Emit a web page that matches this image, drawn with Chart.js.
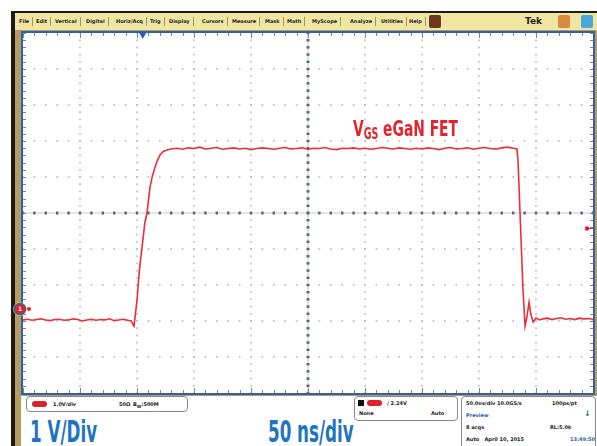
<!DOCTYPE html>
<html>
<head>
<meta charset="utf-8">
<script src="https://cdn.jsdelivr.net/npm/chart.js@4.4.1/dist/chart.umd.min.js"></script>
<style>
  body { margin:0; width:597px; height:446px; overflow:hidden; background:#fff; position:relative;
         font-family:"Liberation Sans", Arial, sans-serif; }
  .abs { position:absolute; }
  #blackL { left:11px; top:11px; width:4px; height:435px; background:#1b1b1b; }
  #blackT { left:11px; top:11px; width:586px; height:2px; background:#1b1b1b; }
  #menu { left:15px; top:13px; width:582px; height:17px; background:#f0e6a2; }
  #tanL { left:15px; top:30px; width:6px; height:416px; background:#b59c60; }
  #tanT { left:15px; top:30px; width:582px; height:3px; background:#b59c60; }
  #tanR { left:593px; top:30px; width:4px; height:366px; background:#b59c60; }
  #tanB { left:21px; top:393px; width:576px; height:3px; background:#b59c60; }
  #plotBg { left:23px; top:33px; width:570px; height:360px; background:#fff; }
  #bottom { left:21px; top:396px; width:576px; height:50px; background:#fff; }
  .mi { position:absolute; top:4px; height:9px; font:bold 5px "DejaVu Sans", sans-serif; line-height:9px;
        color:#222; border-right:1px solid #9c9470; padding-right:3px; }
  .btn { position:absolute; top:2px; width:12px; height:13px; border-radius:2px; }
  .box { position:absolute; border:1px solid #8a8a8a; border-radius:4px; background:#fff; }
  .tiny { position:absolute; font:bold 5px "DejaVu Sans", sans-serif; color:#222; white-space:nowrap; }
  .pill { position:absolute; width:15px; height:6px; border-radius:3px; background:#d8232a; }
  .big { position:absolute; font:bold 30px "Liberation Sans Narrow", "DejaVu Sans Condensed", sans-serif;
         color:#1f74c0; white-space:nowrap; transform-origin:0 0; transform:scaleX(0.62); }
  #label { position:absolute; left:353px; top:116px; font:bold 22px "Liberation Sans Narrow", "DejaVu Sans Condensed", sans-serif;
           color:#e5232d; white-space:nowrap; transform-origin:0 0; transform:scaleX(0.7); }
  #label sub { font-size:15px; vertical-align:-3px; }
  #wrap { position:absolute; left:0; top:0; width:597px; height:446px; }
</style>
</head>
<body>
<div class="abs" id="blackL"></div>
<div class="abs" id="blackT"></div>
<div class="abs" id="menu">
  <span class="mi" style="left:4px">File</span>
  <span class="mi" style="left:21px">Edit</span>
  <span class="mi" style="left:40px">Vertical</span>
  <span class="mi" style="left:71px">Digital</span>
  <span class="mi" style="left:101px">Horiz/Acq</span>
  <span class="mi" style="left:135px">Trig</span>
  <span class="mi" style="left:154px">Display</span>
  <span class="mi" style="left:187px">Cursors</span>
  <span class="mi" style="left:217px">Measure</span>
  <span class="mi" style="left:250px">Mask</span>
  <span class="mi" style="left:272px">Math</span>
  <span class="mi" style="left:297px">MyScope</span>
  <span class="mi" style="left:335px">Analyze</span>
  <span class="mi" style="left:366px">Utilities</span>
  <span class="mi" style="left:394px">Help</span>
  <div class="btn" style="left:414px;background:#6b3a1e"></div>
  <span style="position:absolute;left:510px;top:3px;font:bold 9px 'DejaVu Sans',sans-serif;color:#222">Tek</span>
  <div class="btn" style="left:543px;background:#d98a3c"></div>
  <div class="btn" style="left:566px;background:#4aa8d8"></div>
</div>
<div class="abs" id="tanL"></div>
<div class="abs" id="tanT"></div>
<div class="abs" id="tanR"></div>
<div class="abs" id="tanB"></div>
<div class="abs" id="plotBg"></div>
<div class="abs" id="bottom">
  <div class="box" style="left:5px;top:0px;width:160px;height:14px">
    <div class="pill" style="left:5px;top:4px"></div>
    <span class="tiny" style="left:26px;top:4px">1.0V/div</span>
    <span class="tiny" style="left:92px;top:4px">50Ω</span>
    <span class="tiny" style="left:106px;top:4px">B<sub>W</sub>:500M</span>
  </div>
  <div class="box" style="left:333px;top:0px;width:102px;height:23px">
    <div style="position:absolute;left:3px;top:3px;width:6px;height:6px;background:#111"></div>
    <div class="pill" style="left:12px;top:3px"></div>
    <span class="tiny" style="left:32px;top:3px">/ 2.24V</span>
    <span class="tiny" style="left:4px;top:13px">None</span>
    <span class="tiny" style="left:76px;top:13px">Auto</span>
  </div>
  <div class="box" style="left:440px;top:0px;width:133px;height:52px">
    <span class="tiny" style="left:4px;top:3px">50.0ns/div 10.0GS/s</span>
    <span class="tiny" style="left:90px;top:3px">100ps/pt</span>
    <span class="tiny" style="left:4px;top:15px;color:#2a5db0">Preview</span>
    <span class="tiny" style="left:122px;top:12px;color:#2a5db0;font-size:8px">&#x2193;</span>
    <span class="tiny" style="left:4px;top:27px">8 acqs</span>
    <span class="tiny" style="left:88px;top:27px">RL:5.0k</span>
    <span class="tiny" style="left:4px;top:39px">Auto&nbsp;&nbsp; April 10, 2015</span>
    <span class="tiny" style="left:108px;top:39px;color:#2a5db0">13:49:50</span>
  </div>
</div>
<div class="big" style="left:30px;top:414px">1 V/Div</div>
<div class="big" style="left:268px;top:414px">50 ns/div</div>
<div id="wrap"><canvas id="scope"></canvas></div>
<div id="label">V<sub>GS</sub> eGaN FET</div>

<script>
// scope settings
const nsPerDiv = 50;
const voltsPerDiv = 1;
const timeMin = 0;
const timeMax = 500;
const voltMin = -2.33;   // ground marker sits 7.67 div below top
const voltMax = 7.67;
const triggerLevel = 2.24;
const triggerTime = 105;

// VGS trace, time in ns
const timeNs = [
  0,4,8,12,16,20,24,28,32,36,40,44,48,52,56,60,64,68,72,76,80,84,88,92,95,
  97.4,100,102,104.4,107,108.8,111.4,113.5,115.8,118,120.2,123,126.3,
  130,135,140,145,150,155,160,165,170,175,180,185,190,195,200,205,210,215,220,225,
  230,235,240,245,250,255,260,265,270,275,280,285,290,295,300,305,310,315,320,325,
  330,335,340,345,350,355,360,365,370,375,380,385,390,395,400,405,410,415,420,425,430,
  433.3,434.2,436,438.6,440.4,442,443.9,445.5,447.5,450,453,
  456,460,464,468,472,476,480,484,488,492,496,500
];
// gate voltage in V
const vgs = [
  -0.30,-0.28,-0.31,-0.29,-0.27,-0.30,-0.32,-0.29,-0.28,-0.31,-0.30,-0.27,-0.29,-0.33,-0.30,-0.28,-0.31,-0.29,-0.30,-0.27,-0.32,-0.30,-0.28,-0.31,-0.33,
  -0.47,0.25,1.05,1.72,2.42,2.67,3.39,3.70,3.94,4.14,4.28,4.38,4.42,
  4.45,4.47,4.44,4.48,4.46,4.50,4.45,4.47,4.49,4.44,
  4.46,4.48,4.45,4.47,4.43,4.46,4.48,4.46,4.44,4.47,
  4.49,4.45,4.46,4.48,4.44,4.47,4.46,4.49,4.45,4.43,
  4.47,4.46,4.48,4.45,4.47,4.44,4.46,4.49,4.47,4.45,
  4.48,4.46,4.44,4.47,4.45,4.48,4.46,4.43,4.47,4.49,
  4.45,4.46,4.48,4.44,4.47,4.49,4.46,4.45,4.48,4.50,
  4.47,
  4.45,4.14,2.67,0.53,-0.47,-0.22,0.19,-0.15,-0.36,-0.25,-0.30,
  -0.27,-0.25,-0.29,-0.26,-0.24,-0.28,-0.26,-0.29,-0.25,-0.27,-0.26,-0.28
];

// graticule, markers
const scopeGrid = {
  id: 'scopeGrid',
  beforeDatasetsDraw(chart) {
    const { ctx, chartArea: a, scales: { x, y } } = chart;
    const minorT = nsPerDiv / 5, minorV = voltsPerDiv / 5;
    const midT = (timeMin + timeMax) / 2, midV = (voltMin + voltMax) / 2;
    ctx.save();
    // dotted major lines
    ctx.fillStyle = '#b4b8bf';
    for (let t = timeMin + nsPerDiv; t < timeMax - 1; t += nsPerDiv) {
      const px = x.getPixelForValue(t);
      for (let v = voltMin; v <= voltMax + 0.01; v += minorV) {
        ctx.fillRect(px - 0.8, y.getPixelForValue(v) - 0.8, 1.6, 1.6);
      }
    }
    for (let v = voltMin + voltsPerDiv; v < voltMax - 0.01; v += voltsPerDiv) {
      const py = y.getPixelForValue(v);
      for (let t = timeMin; t <= timeMax + 0.01; t += minorT) {
        ctx.fillRect(x.getPixelForValue(t) - 0.8, py - 0.8, 1.6, 1.6);
      }
    }
    // centre cross
    const cx = x.getPixelForValue(midT), cy = y.getPixelForValue(midV);
    ctx.strokeStyle = '#c3c8d0';
    ctx.lineWidth = 1;
    ctx.beginPath();
    ctx.moveTo(a.left, cy); ctx.lineTo(a.right, cy);
    ctx.moveTo(cx, a.top); ctx.lineTo(cx, a.bottom);
    ctx.stroke();
    ctx.fillStyle = '#5d6575';
    for (let t = timeMin; t <= timeMax + 0.01; t += minorT) {
      ctx.fillRect(x.getPixelForValue(t) - 1.2, cy - 1.5, 2.4, 3);
    }
    for (let v = voltMin; v <= voltMax + 0.01; v += minorV) {
      ctx.fillRect(cx - 1.5, y.getPixelForValue(v) - 1.2, 3, 2.4);
    }
    // edge ticks
    ctx.strokeStyle = '#7d8594';
    ctx.beginPath();
    for (let t = timeMin; t <= timeMax + 0.01; t += minorT) {
      const px = Math.round(x.getPixelForValue(t)) + 0.5;
      const len = (Math.abs(t % nsPerDiv) < 0.01) ? 5 : 3;
      ctx.moveTo(px, a.top); ctx.lineTo(px, a.top + len);
      ctx.moveTo(px, a.bottom); ctx.lineTo(px, a.bottom - len);
    }
    for (let v = voltMin; v <= voltMax + 0.01; v += minorV) {
      const py = Math.round(y.getPixelForValue(v)) + 0.5;
      ctx.moveTo(a.left, py); ctx.lineTo(a.left + 3, py);
      ctx.moveTo(a.right, py); ctx.lineTo(a.right - 3, py);
    }
    ctx.stroke();
    ctx.restore();
  },
  afterDraw(chart) {
    const { ctx, chartArea: a, scales: { x, y } } = chart;
    ctx.save();
    // frame
    ctx.strokeStyle = '#2d5fb3';
    ctx.lineWidth = 2;
    ctx.strokeRect(a.left - 1, a.top - 1, a.right - a.left + 2, a.bottom - a.top + 2);
    // trigger position
    const tx = x.getPixelForValue(triggerTime);
    ctx.fillStyle = '#2d5fb3';
    ctx.beginPath();
    ctx.moveTo(tx - 3.5, a.top); ctx.lineTo(tx + 3.5, a.top); ctx.lineTo(tx, a.top + 6);
    ctx.closePath(); ctx.fill();
    // trigger level
    const ty = y.getPixelForValue(triggerLevel);
    ctx.fillStyle = '#e3202a';
    ctx.beginPath(); ctx.arc(a.right - 6, ty, 2.2, 0, Math.PI * 2); ctx.fill();
    ctx.fillRect(a.right - 4, ty - 0.5, 4, 1);
    // ground marker for channel 1
    const gy = y.getPixelForValue(0);
    ctx.fillStyle = 'rgba(240,200,60,0.7)';
    ctx.beginPath(); ctx.arc(a.left - 3, gy, 7, 0, Math.PI * 2); ctx.fill();
    ctx.fillStyle = '#e3202a';
    ctx.strokeStyle = '#2d5fb3';
    ctx.lineWidth = 1.5;
    ctx.beginPath(); ctx.arc(a.left - 3, gy, 5.5, 0, Math.PI * 2); ctx.fill(); ctx.stroke();
    ctx.fillStyle = '#fff';
    ctx.font = 'bold 6px "DejaVu Sans"';
    ctx.textAlign = 'center'; ctx.textBaseline = 'middle';
    ctx.fillText('1', a.left - 3, gy + 0.5);
    ctx.fillStyle = '#e3202a';
    ctx.beginPath(); ctx.arc(a.left + 6, gy, 2, 0, Math.PI * 2); ctx.fill();
    ctx.restore();
  }
};

new Chart(document.getElementById('scope'), {
  type: 'line',
  data: {
    datasets: [{
      data: timeNs.map((t, i) => ({ x: t, y: vgs[i] })),
      borderColor: '#e8303a',
      borderWidth: 1.6,
      pointRadius: 0,
      tension: 0
    }]
  },
  options: {
    responsive: true,
    maintainAspectRatio: false,
    animation: false,
    layout: { padding: { left: 23, top: 33, right: 4, bottom: 53 } },
    plugins: { legend: { display: false }, tooltip: { enabled: false } },
    scales: {
      x: { type: 'linear', min: timeMin, max: timeMax, display: false },
      y: { type: 'linear', min: voltMin, max: voltMax, display: false }
    }
  },
  plugins: [scopeGrid]
});
</script>
</body>
</html>
